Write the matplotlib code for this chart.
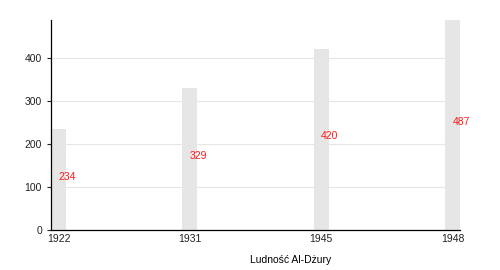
import matplotlib.pyplot as plt

years = ["1922", "1931", "1945", "1948"]
population = [234, 329, 420, 487]

plt.rcParams["font.family"] = ["Liberation Sans", "DejaVu Sans"]

fig = plt.figure(figsize=(5, 2.7), dpi=100)
ax = fig.add_axes([0.102, 0.148, 0.818, 0.778])

w = 0.114
pos = list(range(len(years)))
ax.bar(pos, population, width=w, color="#e6e6e6", zorder=2)

# value labels at half height, starting at bar centre
for x, v in zip(pos, population):
    ax.text(x, v / 2 + 7, str(v), color="#ff1a1a", fontsize=7.5,
            ha="left", va="center", zorder=3)

ax.set_xlim(-w / 2, len(years) - 1 + w / 2)
ax.set_ylim(0, 487)
ax.set_xticks(pos)
ax.set_xticklabels(years)
ax.set_yticks([0, 100, 200, 300, 400])

ax.yaxis.grid(True, color="#e6e6e6", linewidth=0.8, zorder=0)
ax.set_axisbelow(True)
for s in ["top", "right"]:
    ax.spines[s].set_visible(False)
ax.spines["left"].set_linewidth(0.9)
ax.spines["bottom"].set_linewidth(0.9)
ax.tick_params(labelsize=7.5, length=3, width=0.8, colors="#222222")
ax.tick_params(axis="x", length=0, pad=3)

ax.set_xlabel("Ludność Al-Dżury", fontsize=7.5)
ax.xaxis.set_label_coords((291 - 51) / 409, -0.12)

plt.savefig("out.png", dpi=100)
